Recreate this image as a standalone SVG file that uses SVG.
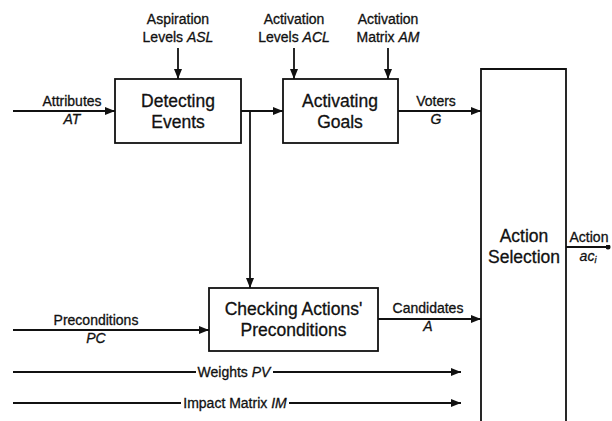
<svg xmlns="http://www.w3.org/2000/svg" width="612" height="421" viewBox="0 0 612 421">
<defs>
<marker id="ah" viewBox="0 0 10 8" refX="10" refY="4" markerWidth="10" markerHeight="8" markerUnits="userSpaceOnUse" orient="auto">
<path d="M0,0 L10,4 L0,8 Z" fill="#111"/>
</marker>
<marker id="dot" viewBox="0 0 6 6" refX="3" refY="3" markerWidth="5" markerHeight="5" markerUnits="userSpaceOnUse">
<circle cx="3" cy="3" r="3" fill="#111"/>
</marker>
</defs>
<style>
.box{fill:#fff;stroke:#111;stroke-width:1.8}
.ln{fill:none;stroke:#111;stroke-width:1.8}
.arr{marker-end:url(#ah)}
text{font-family:"Liberation Sans",Arial,sans-serif;fill:#111;stroke:#111;stroke-width:0.3}
.lb{font-size:14px;text-anchor:middle}
.bx{font-size:17.5px;text-anchor:middle}
.it{font-style:italic}
</style>
<rect width="612" height="421" fill="#fff"/>
<g id="connectors">
<line class="ln arr" x1="13" y1="111" x2="115" y2="111"/>
<line class="ln arr" x1="241" y1="111" x2="283" y2="111"/>
<line class="ln arr" x1="250" y1="111" x2="250" y2="288"/>
<line class="ln arr" x1="178" y1="48" x2="178" y2="79"/>
<line class="ln arr" x1="294" y1="48" x2="294" y2="79"/>
<line class="ln arr" x1="388" y1="48" x2="388" y2="79"/>
<line class="ln arr" x1="398" y1="111" x2="481" y2="111"/>
<line class="ln arr" x1="13" y1="330" x2="209" y2="330"/>
<line class="ln arr" x1="378" y1="319" x2="481" y2="319"/>
<line class="ln" x1="13" y1="372" x2="196" y2="372"/>
<line class="ln arr" x1="273" y1="372" x2="461" y2="372"/>
<line class="ln" x1="13" y1="403" x2="181" y2="403"/>
<line class="ln arr" x1="289" y1="403" x2="461" y2="403"/>
<line class="ln" x1="566" y1="247" x2="608" y2="247" style="marker-end:url(#dot)"/>
<text class="lb" x="72" y="106">Attributes</text>
<text class="lb it" x="72" y="124">AT</text>
<text class="lb" x="178" y="24">Aspiration</text>
<text class="lb" x="178" y="42">Levels <tspan class="it">ASL</tspan></text>
<text class="lb" x="294" y="24">Activation</text>
<text class="lb" x="294" y="42">Levels <tspan class="it">ACL</tspan></text>
<text class="lb" x="388" y="24">Activation</text>
<text class="lb" x="388" y="42">Matrix <tspan class="it">AM</tspan></text>
<text class="lb" x="436" y="106">Voters</text>
<text class="lb it" x="436" y="124">G</text>
<text class="lb" x="96" y="325">Preconditions</text>
<text class="lb it" x="96" y="343">PC</text>
<text class="lb" x="428" y="313">Candidates</text>
<text class="lb it" x="428" y="331">A</text>
<text class="lb" x="234" y="377">Weights <tspan class="it">PV</tspan></text>
<text class="lb" x="235" y="408">Impact Matrix <tspan class="it">IM</tspan></text>
<text class="lb" x="589" y="242">Action</text>
<text class="lb it" x="588" y="261">ac<tspan font-size="9" dy="2">i</tspan></text>
</g>
<g id="detecting">
<rect class="box" x="115" y="79" width="126" height="64"/>
<text class="bx" x="178" y="107">Detecting</text>
<text class="bx" x="178" y="128">Events</text>
</g>
<g id="activating">
<rect class="box" x="283" y="79" width="115" height="64"/>
<text class="bx" x="340" y="107">Activating</text>
<text class="bx" x="340" y="128">Goals</text>
</g>
<g id="checking">
<rect class="box" x="209" y="288" width="169" height="63"/>
<text class="bx" x="293.5" y="315">Checking Actions'</text>
<text class="bx" x="293.5" y="336">Preconditions</text>
</g>
<g id="selection">
<path class="box" d="M481,425 L481,69 L566,69 L566,425"/>
<text class="bx" x="524" y="242">Action</text>
<text class="bx" x="524" y="263">Selection</text>
</g>
</svg>
